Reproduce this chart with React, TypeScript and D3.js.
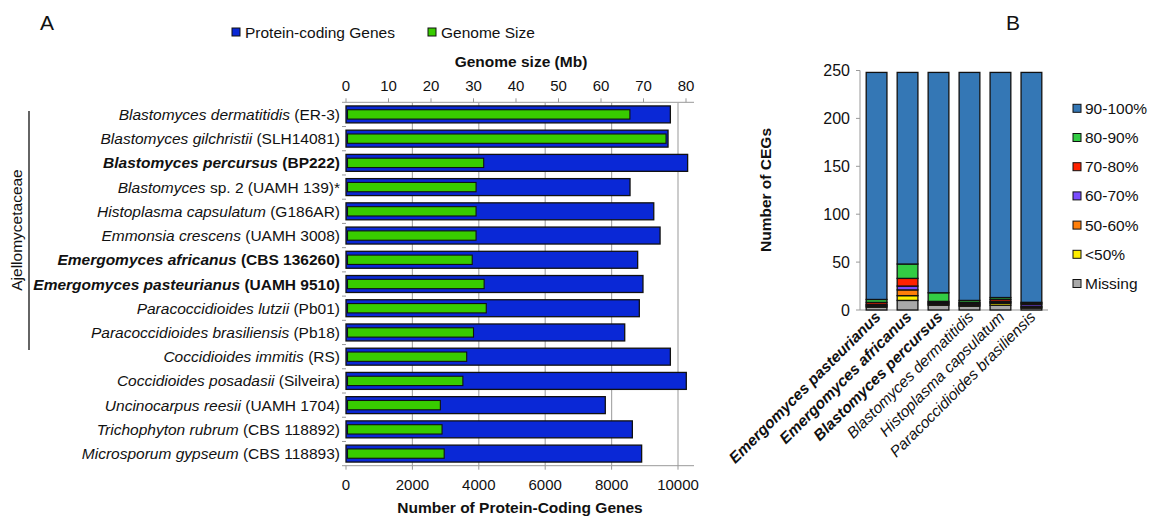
import React from "react";
import * as d3 from "d3";

// ---------- Panel A data ----------
const speciesA = [
  "Blastomyces dermatitidis",
  "Blastomyces gilchristii",
  "Blastomyces percursus",
  "Blastomyces",
  "Histoplasma capsulatum",
  "Emmonsia crescens",
  "Emergomyces africanus",
  "Emergomyces pasteurianus",
  "Paracoccidioides lutzii",
  "Paracoccidioides brasiliensis",
  "Coccidioides immitis",
  "Coccidioides posadasii",
  "Uncinocarpus reesii",
  "Trichophyton rubrum",
  "Microsporum gypseum",
];
const strainsA = [
  "(ER-3)",
  "(SLH14081)",
  "(BP222)",
  "sp. 2 (UAMH 139)*",
  "(G186AR)",
  "(UAMH 3008)",
  "(CBS 136260)",
  "(UAMH 9510)",
  "(Pb01)",
  "(Pb18)",
  "(RS)",
  "(Silveira)",
  "(UAMH 1704)",
  "(CBS 118892)",
  "(CBS 118893)",
];
const boldA = [false, false, true, false, false, false, true, true, false, false, false, false, false, false, false];
const proteinGenes = [9770, 9700, 10290, 8555, 9270, 9460, 8785, 8945, 8835, 8395, 9770, 10250, 7810, 8625, 8905];
const genomeSizeMb = [66.8, 75.3, 32.4, 30.6, 30.6, 30.6, 29.7, 32.5, 33.0, 30.0, 28.4, 27.5, 22.2, 22.6, 23.1];
const geneTicks = [0, 2000, 4000, 6000, 8000, 10000];
const mbTicks = [0, 10, 20, 30, 40, 50, 60, 70, 80];

// ---------- Panel B data ----------
const speciesB = [
  "Emergomyces pasteurianus",
  "Emergomyces africanus",
  "Blastomyces percursus",
  "Blastomyces dermatitidis",
  "Histoplasma capsulatum",
  "Paracoccidioides brasiliensis",
];
const boldB = [true, true, true, false, false, false];
const missing = [3, 10, 5, 4, 5, 2];
const below50 = [1, 5, 1, 1, 2, 1];
const p50_60 = [1, 6, 1, 1, 1, 1];
const p60_70 = [1, 4, 1, 1, 1, 2];
const p70_80 = [2, 8, 1, 1, 2, 1];
const p80_90 = [3, 15, 9, 2, 2, 1];
const p90_100 = [237, 200, 230, 238, 235, 240];
const cegTicks = [0, 50, 100, 150, 200, 250];
const classKeys = ["Missing", "<50%", "50-60%", "60-70%", "70-80%", "80-90%", "90-100%"];
const classColors = ["#a9a9a9", "#ffee00", "#ff7f0a", "#7a4cff", "#ff2200", "#33cc44", "#3477b5"];

const FONT = "'Liberation Sans', Arial, Helvetica, sans-serif";
const BLUE = "#0a28d6";
const GREEN = "#38cc00";

export default function App() {
  // Panel A scales
  const xGenes = d3.scaleLinear().domain([0, 10000]).range([346, 678]);
  const xMb = d3.scaleLinear().domain([0, 80]).range([346, 686]);
  const axisEnd = 694;
  const yA = d3.scaleBand<number>().domain(d3.range(speciesA.length)).range([102.3, 465.7]).paddingInner(0.3).paddingOuter(0.15);
  const topY = 102.3;
  const botY = 465.7;
  const bw = yA.bandwidth();
  const gh = bw * 0.55;

  // Panel B scales
  const xB = d3.scaleBand<number>().domain(d3.range(speciesB.length)).range([860, 1048]).paddingInner(0.33).paddingOuter(0.2);
  const yB = d3.scaleLinear().domain([0, 250]).range([310, 70.5]);
  const rows = speciesB.map((_, i) => ({
    "Missing": missing[i],
    "<50%": below50[i],
    "50-60%": p50_60[i],
    "60-70%": p60_70[i],
    "70-80%": p70_80[i],
    "80-90%": p80_90[i],
    "90-100%": p90_100[i],
    idx: i,
  }));
  const stacked = d3.stack<any>().keys(classKeys)(rows);
  const legendOrder = [...classKeys].reverse();

  const step = yA.step();
  const boundaries = d3.range(speciesA.length + 1).map((i) => topY + (botY - topY) * (i / speciesA.length));

  return (
    <svg width={1157} height={520} style={{ position: "absolute", left: 0, top: 0, background: "#fff" }} fontFamily={FONT}>
      {/* Panel letters */}
      <text x={40} y={30} fontSize={21} fill="#111">A</text>
      <text x={1006} y={30} fontSize={21} fill="#111">B</text>

      {/* Legend A */}
      <rect x={232} y={28} width={8} height={8} fill={BLUE} stroke="#111" strokeWidth={1} />
      <text x={245} y={38} fontSize={15.5} fill="#111">Protein-coding Genes</text>
      <rect x={428} y={28} width={8} height={8} fill={GREEN} stroke="#111" strokeWidth={1} />
      <text x={441} y={38} fontSize={15.5} fill="#111">Genome Size</text>

      {/* Top axis */}
      <text x={521} y={67} fontSize={15.5} fontWeight="bold" textAnchor="middle" fill="#111">Genome size (Mb)</text>
      {mbTicks.map((t) => (
        <g key={"mt" + t}>
          <line x1={xMb(t)} x2={xMb(t)} y1={topY - 4} y2={topY} stroke="#999" />
          <text x={xMb(t)} y={91} fontSize={15} textAnchor="middle" fill="#111">{t}</text>
        </g>
      ))}
      <line x1={346} x2={axisEnd} y1={topY} y2={topY} stroke="#999" />

      {/* Grid */}
      {geneTicks.slice(1).map((t) => (
        <line key={"g" + t} x1={xGenes(t)} x2={xGenes(t)} y1={topY} y2={botY} stroke="#aaa" strokeWidth={1.2} />
      ))}

      {/* Bottom axis */}
      <line x1={346} x2={axisEnd} y1={botY} y2={botY} stroke="#999" />
      {geneTicks.map((t) => (
        <g key={"bt" + t}>
          <line x1={xGenes(t)} x2={xGenes(t)} y1={botY} y2={botY + 4} stroke="#999" />
          <text x={xGenes(t)} y={490} fontSize={15} textAnchor="middle" fill="#111">{t}</text>
        </g>
      ))}
      <text x={520} y={513} fontSize={15.5} fontWeight="bold" textAnchor="middle" fill="#111">Number of Protein-Coding Genes</text>

      {/* Left small ticks */}
      {boundaries.map((b, i) => (
        <line key={"lt" + i} x1={342} x2={346} y1={b} y2={b} stroke="#999" />
      ))}

      {/* Bars A */}
      {speciesA.map((s, i) => {
        const y0 = yA(i)!;
        const cy = y0 + bw / 2;
        return (
          <g key={"a" + i}>
            <rect x={xGenes(0)} y={y0} width={xGenes(proteinGenes[i]) - xGenes(0)} height={bw} fill={BLUE} stroke="#111" strokeWidth={1.3} />
            <rect x={xMb(0) + 1.5} y={cy - gh / 2} width={xMb(genomeSizeMb[i]) - xMb(0) - 1.5} height={gh} fill={GREEN} stroke="#111" strokeWidth={1.1} />
            <text x={340} y={cy + 5.5} fontSize={15.5} textAnchor="end" fill="#111" fontWeight={boldA[i] ? "bold" : "normal"}>
              <tspan fontStyle="italic">{s}</tspan>
              <tspan>{" " + strainsA[i]}</tspan>
            </text>
          </g>
        );
      })}

      {/* Ajellomycetaceae bracket */}
      <line x1={29} x2={29} y1={111} y2={350} stroke="#111" strokeWidth={1.3} />
      <text transform="translate(22,230) rotate(-90)" fontSize={15.5} textAnchor="middle" fill="#111">Ajellomycetaceae</text>

      {/* Panel B */}
      <text transform="translate(771,190) rotate(-90)" fontSize={15.5} fontWeight="bold" textAnchor="middle" fill="#111">Number of CEGs</text>
      <line x1={860} x2={860} y1={yB(250)} y2={yB(0)} stroke="#999" />
      <line x1={860} x2={1048} y1={yB(0)} y2={yB(0)} stroke="#999" />
      {cegTicks.map((t) => (
        <g key={"ct" + t}>
          <line x1={856} x2={860} y1={yB(t)} y2={yB(t)} stroke="#999" />
          <text x={850} y={yB(t) + 5.5} fontSize={16} textAnchor="end" fill="#111">{t}</text>
        </g>
      ))}
      {stacked.map((layer, li) => (
        <g key={"l" + li}>
          {layer.map((d, i) => (
            <rect
              key={i}
              x={xB(i)!}
              y={yB(d[1])}
              width={xB.bandwidth()}
              height={Math.max(0, yB(d[0]) - yB(d[1]))}
              fill={classColors[li]}
              stroke="#111"
              strokeWidth={1.3}
            />
          ))}
        </g>
      ))}
      {speciesB.map((s, i) => (
        <text
          key={"xb" + i}
          transform={`translate(${xB(i)! + xB.bandwidth() / 2 + 5},${318}) rotate(-45)`}
          fontSize={15.5}
          textAnchor="end"
          fontStyle="italic"
          fontWeight={boldB[i] ? "bold" : "normal"}
          fill="#111"
        >
          {s}
        </text>
      ))}
      {/* Legend B */}
      {legendOrder.map((k, j) => {
        const cy = 108.3 + j * 29.2;
        const ci = classKeys.indexOf(k);
        return (
          <g key={"lg" + k}>
            <rect x={1073} y={cy - 4} width={8} height={8} fill={classColors[ci]} stroke="#111" strokeWidth={1} />
            <text x={1085} y={cy + 5.5} fontSize={15.5} fill="#111">{k}</text>
          </g>
        );
      })}
    </svg>
  );
}
